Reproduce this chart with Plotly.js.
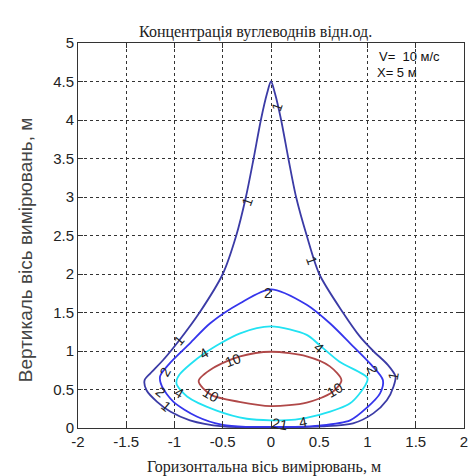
<!DOCTYPE html>
<html>
<head>
<meta charset="utf-8">
<script src="https://cdn.plot.ly/plotly-3.0.1.min.js"></script>
<style>html,body{margin:0;padding:0;background:#fff}#chart{width:470px;height:476px}</style>
</head>
<body>
<div id="chart"></div>
<script>
// Contour level 1
var c1x = [0, 0.04, 0.105, 0.18, 0.26, 0.37, 0.5, 0.745, 0.92, 1.06, 1.21, 1.29, 1.27, 1.2, 1.06, 0.85, 0.53, 0.25, 0, -0.25, -0.5, -0.84, -1.04, -1.18, -1.29, -1.31, -1.25, -1.12, -0.95, -0.74, -0.5, -0.36, -0.26, -0.18, -0.105, -0.04, 0];
var c1y = [4.5, 4.35, 4.0, 3.5, 3.0, 2.5, 2.0, 1.5, 1.19, 1.0, 0.82, 0.67, 0.54, 0.36, 0.19, 0.06, 0.02, 0.01, 0.01, 0.01, 0.02, 0.1, 0.21, 0.34, 0.49, 0.62, 0.71, 0.88, 1.14, 1.5, 2.0, 2.5, 3.0, 3.5, 4.0, 4.35, 4.5];
// Contour level 2
var c2x = [0, 0.37, 0.61, 0.82, 1.04, 1.16, 1.13, 0.99, 0.82, 0.5, 0.25, 0, -0.25, -0.5, -0.77, -1.01, -1.13, -1.15, -1.05, -0.84, -0.63, -0.32, 0];
var c2y = [1.8, 1.6, 1.36, 1.1, 0.82, 0.62, 0.45, 0.26, 0.1, 0.03, 0.015, 0.015, 0.015, 0.04, 0.15, 0.34, 0.54, 0.67, 0.84, 1.1, 1.36, 1.62, 1.8];
// Contour level 4
var c4x = [0, 0.37, 0.5, 0.71, 1.0, 0.97, 0.82, 0.5, 0.25, 0, -0.25, -0.57, -0.87, -0.98, -0.95, -0.69, -0.32, 0];
var c4y = [1.32, 1.21, 1.08, 0.86, 0.65, 0.54, 0.32, 0.17, 0.11, 0.1, 0.12, 0.23, 0.41, 0.58, 0.69, 0.97, 1.23, 1.32];
// Contour level 10
var c10x = [0, 0.37, 0.61, 0.73, 0.63, 0.37, 0, -0.33, -0.62, -0.75, -0.6, -0.32, 0];
var c10y = [0.99, 0.93, 0.8, 0.62, 0.46, 0.33, 0.285, 0.34, 0.43, 0.61, 0.78, 0.93, 0.99];

// Contour labels
var labText = ["1", "1", "1", "1", "1", "1", "2", "2", "2", "2", "4", "4", "4", "4", "10", "10", "10", "21"];
var labX = [0.06, -0.25, 0.42, -0.95, -1.09, 1.27, -0.03, -1.1, -1.14, 1.05, -0.69, -0.95, 0.5, 0.33, -0.39, -0.62, 0.66, 0.09];
var labY = [4.17, 2.94, 2.18, 1.14, 0.28, 0.67, 1.75, 0.73, 0.47, 0.75, 0.97, 0.45, 1.04, 0.08, 0.88, 0.43, 0.49, 0.05];
var labAng = [-70, -70, 70, -50, 40, -80, 0, -60, 40, 70, -30, 30, 40, -10, -20, 30, -30, 10];

var xTicks = [-2, -1.5, -1, -0.5, 0, 0.5, 1, 1.5, 2];
var xTickText = ["-2", "-1.5", "-1", "-0.5", "0", "0.5", "1", "1.5", "2"];
var yTicks = [0, 0.5, 1, 1.5, 2, 2.5, 3, 3.5, 4, 4.5, 5];
var yTickText = ["0", "0.5", "1", "1.5", "2", "2.5", "3", "3.5", "4", "4.5", "5"];

function line(x, y, color) {
  return {x: x, y: y, type: 'scatter', mode: 'lines', line: {color: color, width: 1.8, shape: 'spline', smoothing: 0.8}, hoverinfo: 'skip', showlegend: false};
}
var traces = [
  line(c1x, c1y, '#3b3ba6'),
  line(c2x, c2y, '#3535ec'),
  line(c4x, c4y, '#22e2f2'),
  line(c10x, c10y, '#b04848')
];

var ann = [];
for (var i = 0; i < labText.length; i++) {
  ann.push({x: labX[i], y: labY[i], xref: 'x', yref: 'y', text: labText[i], showarrow: false, textangle: labAng[i], font: {family: 'Liberation Sans, Arial', size: 14, color: '#222'}});
}
ann.push({x: 1.095, y: 4.82, xref: 'x', yref: 'y', xanchor: 'left', text: 'V=  10 м/с', showarrow: false, font: {family: 'Liberation Sans, Arial', size: 13, color: '#111'}});
ann.push({x: 1.08, y: 4.62, xref: 'x', yref: 'y', xanchor: 'left', text: 'X= 5 м', showarrow: false, font: {family: 'Liberation Sans, Arial', size: 13, color: '#111'}});
ann.push({x: 0.459, y: 1.057, xref: 'paper', yref: 'paper', xanchor: 'center', text: 'Концентрація вуглеводнів відн.од.', showarrow: false, font: {family: 'Liberation Serif, Times New Roman', size: 16, color: '#222'}});
ann.push({x: 0.482, y: -0.1, xref: 'paper', yref: 'paper', xanchor: 'center', yanchor: 'middle', text: 'Горизонтальна вісь вимірювань, м', showarrow: false, font: {family: 'Liberation Serif, Times New Roman', size: 16, color: '#222'}});
ann.push({x: -0.137, y: 0.462, xref: 'paper', yref: 'paper', xanchor: 'center', yanchor: 'middle', text: 'Вертикаль вісь вимірювань, м', textangle: -90, showarrow: false, font: {family: 'Liberation Sans, Arial', size: 19, color: '#444'}});

var axisCommon = {
  showline: true, linecolor: '#333', linewidth: 1, mirror: 'ticks',
  ticks: 'inside', ticklen: 5, tickcolor: '#333',
  showgrid: true, gridcolor: '#333', gridwidth: 1, griddash: '3px,3px',
  zeroline: false,
  tickfont: {family: 'Liberation Sans, Arial', size: 15, color: '#222'}
};
var layout = {
  width: 470, height: 476,
  margin: {l: 78, r: 6, t: 43, b: 48},
  paper_bgcolor: '#fff', plot_bgcolor: '#fff',
  xaxis: Object.assign({}, axisCommon, {range: [-2, 2], tickvals: xTicks, ticktext: xTickText}),
  yaxis: Object.assign({}, axisCommon, {range: [0, 5], tickvals: yTicks, ticktext: yTickText}),
  annotations: ann,
  showlegend: false
};
Plotly.newPlot('chart', traces, layout, {staticPlot: true, displayModeBar: false});
</script>
</body>
</html>
